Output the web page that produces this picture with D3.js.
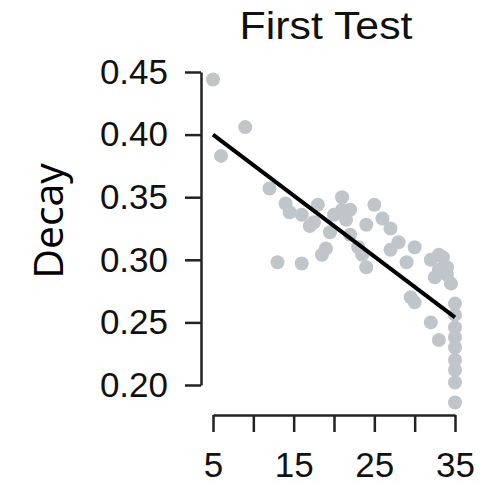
<!DOCTYPE html>
<html><head><meta charset="utf-8">
<script src="https://cdn.jsdelivr.net/npm/d3@7"></script>
<style>html,body{margin:0;padding:0;background:#fff;}svg{display:block;}</style>
</head><body>
<script>
const title = "First Test";
const yLabel = "Decay";
const xTickValues = [5, 10, 15, 20, 25, 30, 35];
const xTickLabels = [5, 15, 25, 35];
const yTickValues = [0.20, 0.25, 0.30, 0.35, 0.40, 0.45];
const ptX = [5, 6, 9, 12, 14, 14.5, 13, 16, 16, 17, 18, 17.5, 20, 21, 21, 22, 19.5, 19, 18.5, 22, 23, 23.5, 24, 24, 25, 26, 27, 28, 30, 27, 29, 29.5, 30, 32, 33, 34, 32.5, 34.5, 35, 32, 33, 35, 35, 35, 35, 35, 33, 35, 35, 33.5, 34, 35, 21.5];
const ptY = [0.444, 0.383, 0.406, 0.357, 0.345, 0.338, 0.298, 0.297, 0.336, 0.327, 0.344, 0.330, 0.336, 0.350, 0.340, 0.340, 0.322, 0.309, 0.304, 0.320, 0.310, 0.304, 0.294, 0.328, 0.344, 0.333, 0.325, 0.314, 0.310, 0.308, 0.298, 0.270, 0.266, 0.300, 0.292, 0.294, 0.286, 0.281, 0.265, 0.250, 0.236, 0.246, 0.230, 0.212, 0.202, 0.186, 0.304, 0.220, 0.238, 0.302, 0.288, 0.256, 0.332];
const fitX = [5, 35];
const fitY = [0.400, 0.254];

const W = 487, H = 485;
const svg = d3.select("body").append("svg").attr("width", W).attr("height", H);
const x = d3.scaleLinear().domain([5, 35]).range([213, 455]);
const y = d3.scaleLinear().domain([0.20, 0.45]).range([385, 72]);

// points
svg.append("g").selectAll("circle").data(ptX.map((d, i) => [d, ptY[i]])).join("circle")
  .attr("cx", d => x(d[0])).attr("cy", d => y(d[1])).attr("r", 7)
  .attr("fill", "#c0c5ca");

// fit line
svg.append("path").datum(fitX.map((d, i) => [d, fitY[i]]))
  .attr("d", d3.line().x(d => x(d[0])).y(d => y(d[1])))
  .attr("stroke", "#000").attr("stroke-width", 4).attr("fill", "none");

// y axis
const ya = svg.append("g").attr("transform", "translate(201,0)")
  .call(d3.axisLeft(y).tickValues(yTickValues).tickFormat(d3.format(".2f")).tickSize(16).tickSizeOuter(0).tickPadding(17));
// x axis
const xa = svg.append("g").attr("transform", "translate(0,415)")
  .call(d3.axisBottom(x).tickValues(xTickValues).tickFormat(d => xTickLabels.includes(d) ? d : "").tickSize(17).tickSizeOuter(0).tickPadding(20));
[ya, xa].forEach(g => {
  g.select(".domain").attr("stroke", "#222").attr("stroke-width", 2.5);
  g.selectAll(".tick line").attr("stroke", "#222").attr("stroke-width", 2.5);
  g.selectAll("text").attr("fill", "#111").attr("font-family", "Liberation Sans, Arial, sans-serif").attr("font-size", 35);
});

svg.append("text").attr("x", 326).attr("y", 39).attr("text-anchor", "middle")
  .attr("font-family", "Liberation Sans, Arial, sans-serif").attr("font-size", 39).attr("fill", "#111")
  .attr("textLength", 173).attr("lengthAdjust", "spacingAndGlyphs").text(title);

svg.append("text").attr("transform", "translate(63,221) rotate(-90)").attr("text-anchor", "middle")
  .attr("font-family", "Open Sans, Noto Sans, sans-serif").attr("font-size", 41).attr("fill", "#000")
  .text(yLabel);
</script>
</body></html>
